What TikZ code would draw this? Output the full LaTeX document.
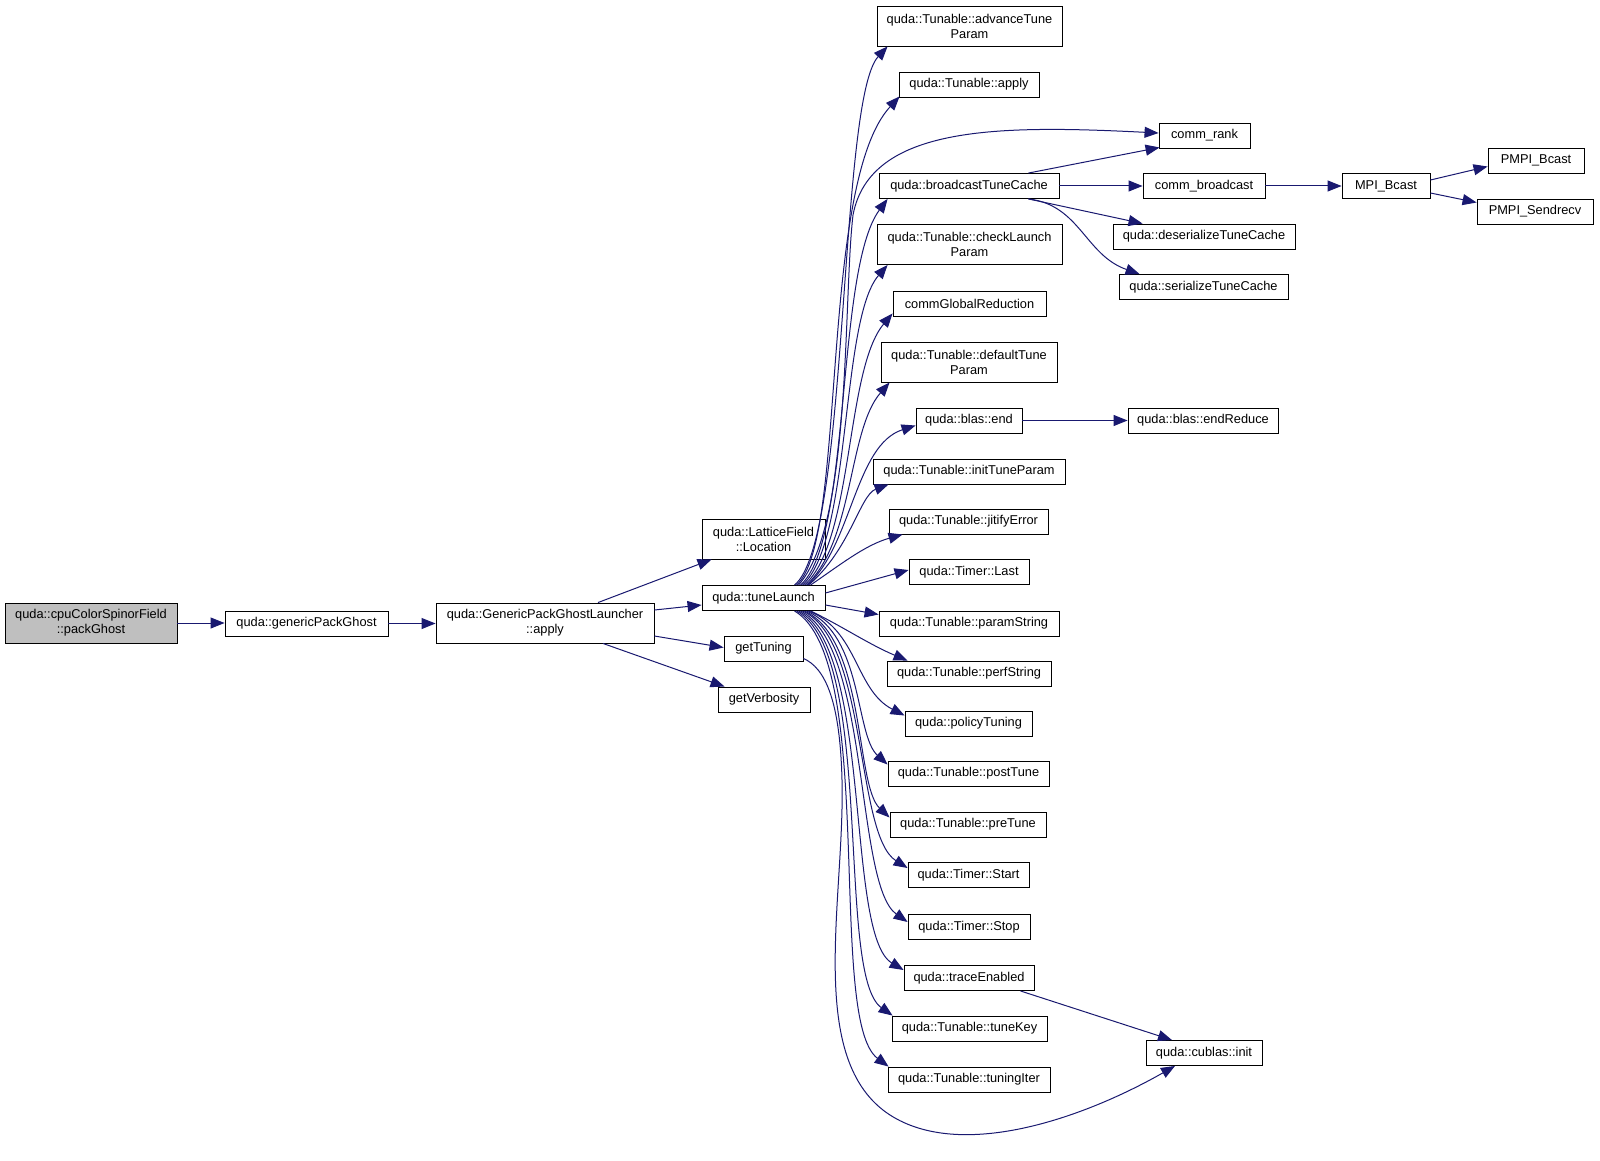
\documentclass[tikz,border=0pt]{standalone}
\usepackage{fontspec}
\setmainfont{Liberation Sans}
\usetikzlibrary{arrows.meta,calc}
\definecolor{edgeblue}{RGB}{25,25,112}
\definecolor{rootgray}{RGB}{191,191,191}

\begin{document}
\begin{tikzpicture}[x=1pt,y=-1pt,
    fn/.style={draw=black,line width=0.9pt,rectangle,inner sep=0pt,minimum height=25pt,align=center,font=\fontsize{12.8}{15}\selectfont},
    fntwo/.style={fn,minimum height=40pt},
    call/.style={edgeblue,line width=1pt,-{Triangle[length=14pt,width=11pt]}}]
    \path[fill=white] (0,0) rectangle (1600,1144);
    % left part
    \node[fntwo,fill=rootgray,minimum width=172pt] (pack) at (91,623) {quda::cpuColorSpinorField\\::packGhost};
    \node[fn,minimum width=163pt] (gpg) at (306.5,623.5) {quda::genericPackGhost};
    \node[fntwo,minimum width=218pt] (launch) at (545,623) {quda::GenericPackGhostLauncher\\::apply};
    \node[fntwo,minimum width=123pt] (loc) at (763.5,539) {quda::LatticeField\\::Location};
    \node[fn,minimum width=123pt] (tune) at (763.5,598) {quda::tuneLaunch};
    \node[fn,minimum width=79pt] (gettun) at (763.5,648.5) {getTuning};
    \node[fn,minimum width=92pt] (getverb) at (764,699.5) {getVerbosity};
    % middle column
    \node[fntwo,minimum width=185pt] (adv) at (969.5,26) {quda::Tunable::advanceTune\\Param};
    \node[fn,minimum width=140pt] (tapply) at (969,84.5) {quda::Tunable::apply};
    \node[fn,minimum width=180pt] (btc) at (969,186) {quda::broadcastTuneCache};
    \node[fntwo,minimum width=185pt] (check) at (969.5,244.5) {quda::Tunable::checkLaunch\\Param};
    \node[fn,minimum width=153pt] (cgr) at (969.5,303.5) {commGlobalReduction};
    \node[fntwo,minimum width=176pt] (deftp) at (969,362) {quda::Tunable::defaultTune\\Param};
    \node[fn,minimum width=106pt] (bend) at (969,420.5) {quda::blas::end};
    \node[fn,minimum width=192pt] (inittp) at (969,471.5) {quda::Tunable::initTuneParam};
    \node[fn,minimum width=159pt] (jit) at (968.5,521.5) {quda::Tunable::jitifyError};
    \node[fn,minimum width=120pt] (tlast) at (969,572) {quda::Timer::Last};
    \node[fn,minimum width=180pt] (pstr) at (969,623.5) {quda::Tunable::paramString};
    \node[fn,minimum width=164pt] (perf) at (969,673.5) {quda::Tunable::perfString};
    \node[fn,minimum width=127pt] (policy) at (968.5,723.5) {quda::policyTuning};
    \node[fn,minimum width=161pt] (post) at (968.5,773.5) {quda::Tunable::postTune};
    \node[fn,minimum width=156pt] (pre) at (968,824.5) {quda::Tunable::preTune};
    \node[fn,minimum width=121pt] (tstart) at (968.5,875) {quda::Timer::Start};
    \node[fn,minimum width=122pt] (tstop) at (969,927) {quda::Timer::Stop};
    \node[fn,minimum width=130pt] (trace) at (969,978) {quda::traceEnabled};
    \node[fn,minimum width=155pt] (tkey) at (969.5,1028.5) {quda::Tunable::tuneKey};
    \node[fn,minimum width=162pt] (titer) at (969,1079.5) {quda::Tunable::tuningIter};
    % right part
    \node[fn,minimum width=91pt] (crank) at (1204.5,135.5) {comm\_rank};
    \node[fn,minimum width=122pt] (cbcast) at (1204,186) {comm\_broadcast};
    \node[fn,minimum width=88pt] (mpib) at (1386,186) {MPI\_Bcast};
    \node[fn,minimum width=96pt] (pmpib) at (1536,160.5) {PMPI\_Bcast};
    \node[fn,minimum width=116pt] (pmpis) at (1535,211.5) {PMPI\_Sendrecv};
    \node[fn,minimum width=182pt] (deser) at (1204,236.5) {quda::deserializeTuneCache};
    \node[fn,minimum width=169pt] (ser) at (1203.5,287) {quda::serializeTuneCache};
    \node[fn,minimum width=150pt] (endred) at (1203,420.5) {quda::blas::endReduce};
    \node[fn,minimum width=116pt] (cublas) at (1204,1053) {quda::cublas::init};

    % calls of the launcher chain
    \draw[call] (pack.east) -- (pack.east -| gpg.west);
    \draw[call] (gpg.east) -- (gpg.east -| launch.west);
    \draw[call] ($(launch.north)+(53,0)$) -- ($(loc.south west)+(10,0)$);
    \draw[call] ($(launch.east)+(0,-13)$) -- ($(tune.west)+(0,7)$);
    \draw[call] ($(launch.east)+(0,13)$) -- ($(gettun.west)+(0,-1)$);
    \draw[call] ($(launch.south)+(58,0)$) -- ($(getverb.north west)+(7,0)$);
    % tuneLaunch, upwards
    \draw[call] ($(tune.north)+(31,0)$) .. controls (850,540) and (838,100) .. ($(adv.south west)+(11,0)$);
    \draw[call] ($(tune.north)+(33,0)$) .. controls (848,540) and (818,185) .. ($(tapply.south west)+(1,-1)$);
    \draw[call] ($(tune.north)+(35,0)$) .. controls (852,525) and (843,300) .. (853,215) .. controls (870,125) and (1000,125) .. ($(crank.west)+(0,-2.5)$);
    \draw[call] ($(tune.north)+(37,0)$) .. controls (852,540) and (835,270) .. ($(btc.south west)+(9,0)$);
    \draw[call] ($(tune.north)+(39,0)$) .. controls (852,540) and (840,320) .. ($(check.south west)+(11,0)$);
    \draw[call] ($(tune.north)+(41,0)$) .. controls (854,540) and (845,370) .. ($(cgr.south west)+(0,-3)$);
    \draw[call] ($(tune.north)+(43,0)$) .. controls (854,540) and (848,430) .. ($(deftp.south west)+(9,0)$);
    \draw[call] ($(tune.north)+(44,0)$) .. controls (852,545) and (855,445) .. ($(bend.west)+(0,5)$);
    \draw[call] ($(tune.north)+(45,0)$) .. controls (850,550) and (860,495) .. ($(inittp.south west)+(16,0)$);
    \draw[call] ($(tune.north)+(47,0)$) .. controls (840,565) and (865,545) .. ($(jit.south west)+(14,0)$);
    % tuneLaunch, downwards
    \draw[call] ($(tune.east)+(0,-5)$) -- ($(tlast.west)+(0,-2)$);
    \draw[call] ($(tune.east)+(0,7)$) -- ($(pstr.west)+(0,-9)$);
    \draw[call] ($(tune.south)+(47,0)$) .. controls (840,625) and (870,645) .. ($(perf.north west)+(21,0)$);
    \draw[call] ($(tune.south)+(45,0)$) .. controls (858,630) and (855,690) .. ($(policy.west)+(0,-8)$);
    \draw[call] ($(tune.south)+(43,0)$) .. controls (863,635) and (855,735) .. ($(post.west)+(0,-9)$);
    \draw[call] ($(tune.south)+(41,0)$) .. controls (866,640) and (855,785) .. ($(pre.west)+(0,-7)$);
    \draw[call] ($(tune.south)+(39,0)$) .. controls (868,640) and (855,835) .. ($(tstart.west)+(0,-7)$);
    \draw[call] ($(tune.south)+(37,0)$) .. controls (870,645) and (855,885) .. ($(tstop.west)+(0,-5)$);
    \draw[call] ($(tune.south)+(35,0)$) .. controls (873,650) and (845,935) .. ($(trace.west)+(0,-8)$);
    \draw[call] ($(tune.south)+(33,0)$) .. controls (876,655) and (835,975) .. ($(tkey.north west)+(1,0)$);
    \draw[call] ($(tune.south)+(31,0)$) .. controls (878,660) and (826,1020) .. ($(titer.north west)+(1,0)$);
    % getTuning and traceEnabled to cublas
    \draw[call] ($(gettun.south east)+(0,-3)$) .. controls (825,668) and (840,700) .. (842,780) .. controls (845,900) and (805,1060) .. (890,1115) .. controls (960,1160) and (1080,1120) .. ($(cublas.south)+(-29,0)$);
    \draw[call] ($(trace.south east)+(-14,0)$) -- ($(cublas.north)+(-32,0)$);
    % broadcastTuneCache and the rest
    \draw[call] ($(btc.north east)+(-31,0)$) -- ($(crank.south west)+(1,-1)$);
    \draw[call] (btc.east) -- (btc.east -| cbcast.west);
    \draw[call] ($(btc.south east)+(-31,0)$) -- ($(deser.north west)+(30,0)$);
    \draw[call] ($(btc.south east)+(-31,0)$) .. controls (1080,205) and (1085,255) .. ($(ser.north west)+(21,0)$);
    \draw[call] (cbcast.east) -- (cbcast.east -| mpib.west);
    \draw[call] ($(mpib.east)+(0,-6)$) -- ($(pmpib.west)+(0,6)$);
    \draw[call] ($(mpib.east)+(0,7)$) -- ($(pmpis.west)+(0,-9)$);
    \draw[call] (bend.east) -- (bend.east -| endred.west);
\end{tikzpicture}
\end{document}
